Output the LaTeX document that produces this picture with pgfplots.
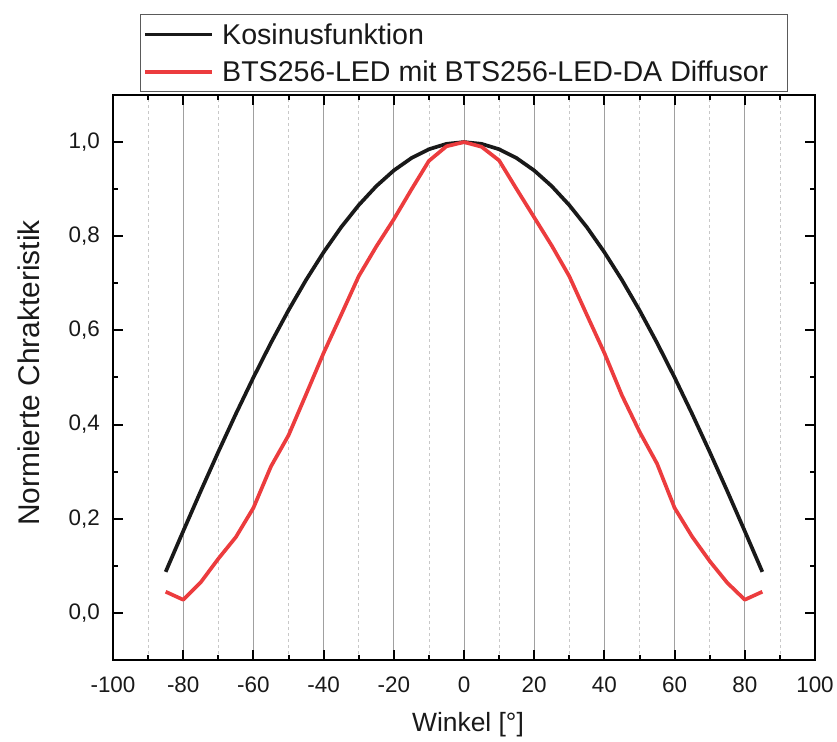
\documentclass[border=0pt]{standalone}
\usepackage{pgfplots}
\pgfplotsset{compat=1.18}
\usepackage{fontspec}
\setmainfont{Liberation Sans}
\definecolor{cosblack}{RGB}{25,25,25}
\definecolor{ledred}{RGB}{236,60,62}
\definecolor{majgrid}{RGB}{160,160,160}
\definecolor{mingrid}{RGB}{200,200,200}
\definecolor{legframe}{RGB}{90,90,90}
\begin{document}
\begin{tikzpicture}
\useasboundingbox (-113bp,-82bp) rectangle (724bp,660bp);
\begin{axis}[
  scale only axis,
  width=702bp, height=565bp,
  xmin=-100, xmax=100, ymin=-0.1, ymax=1.1,
  xtick={-100,-80,-60,-40,-20,0,20,40,60,80,100},
  minor xtick={-90,-70,-50,-30,-10,10,30,50,70,90},
  ytick={0,0.2,0.4,0.6,0.8,1.0},
  minor ytick={0.1,0.3,0.5,0.7,0.9},
  xmajorgrids, xminorgrids,
  major grid style={majgrid, line width=1bp},
  minor grid style={mingrid, line width=0.8bp, dash pattern=on 3bp off 3bp},
  major tick length=10bp, minor tick length=5bp,
  tick style={black, line width=2bp},
  axis line style={black, line width=2bp},
  tick align=inside,
  /pgf/number format/assume math mode=true,
  tick label style={font=\fontsize{22.5}{27}\selectfont, inner sep=0pt, text=cosblack},
  xticklabel shift=17bp,
  yticklabel shift=13bp,
  yticklabel style={/pgf/number format/.cd, fixed, fixed zerofill, precision=1, use comma},
  xticklabel style={/pgf/number format/.cd, fixed, precision=0},
  xlabel={Winkel [°]},
  ylabel={Normierte Chrakteristik},
  xlabel style={font=\fontsize{26.5}{31}\selectfont, at={(axis description cs:0.5057,-0.1257)}, anchor=base, inner sep=0pt, text=cosblack},
  ylabel style={font=\fontsize{30}{35}\selectfont, at={(axis description cs:-0.105,0.508)}, anchor=base, rotate=0, inner sep=0pt, text=cosblack},
  legend cell align=left,
  legend image code/.code={\draw[#1] (0bp,0bp) -- (67bp,0bp);},
  legend style={at={(axis description cs:0.03846,1.1434)}, anchor=north west,
    draw=legframe, line width=1bp, fill=white,
    font=\fontsize{28.7}{34}\selectfont, text=cosblack,
    nodes={inner sep=0pt}, inner xsep=3bp, inner ysep=9bp,
    row sep=15bp, column sep=8bp},
]
\addplot[cosblack, line width=3.7bp, line join=round] coordinates {
(-85,0.0872) (-80,0.1736) (-75,0.2588) (-70,0.3420) (-65,0.4226) (-60,0.5000)
(-55,0.5736) (-50,0.6428) (-45,0.7071) (-40,0.7660) (-35,0.8192) (-30,0.8660)
(-25,0.9063) (-20,0.9397) (-15,0.9659) (-10,0.9848) (-5,0.9962) (0,1.0000)
(5,0.9962) (10,0.9848) (15,0.9659) (20,0.9397) (25,0.9063) (30,0.8660)
(35,0.8192) (40,0.7660) (45,0.7071) (50,0.6428) (55,0.5736) (60,0.5000)
(65,0.4226) (70,0.3420) (75,0.2588) (80,0.1736) (85,0.0872)
};
\addlegendentry{\makebox[562bp][l]{Kosinusfunktion}}
\addplot[ledred, line width=3.7bp, line join=round] coordinates {
(-85,0.045) (-80,0.028) (-75,0.065) (-70,0.115) (-65,0.161) (-60,0.223)
(-55,0.311) (-50,0.377) (-45,0.464) (-40,0.552) (-35,0.633) (-30,0.715)
(-25,0.778) (-20,0.836) (-15,0.899) (-10,0.960) (-5,0.991) (0,1.000)
(5,0.990) (10,0.961) (15,0.900) (20,0.840) (25,0.780) (30,0.715)
(35,0.633) (40,0.552) (45,0.462) (50,0.385) (55,0.317) (60,0.223)
(65,0.162) (70,0.110) (75,0.064) (80,0.028) (85,0.045)
};
\addlegendentry{\makebox[562bp][l]{BTS256-LED mit BTS256-LED-DA Diffusor}}
\end{axis}
\end{tikzpicture}
\end{document}
